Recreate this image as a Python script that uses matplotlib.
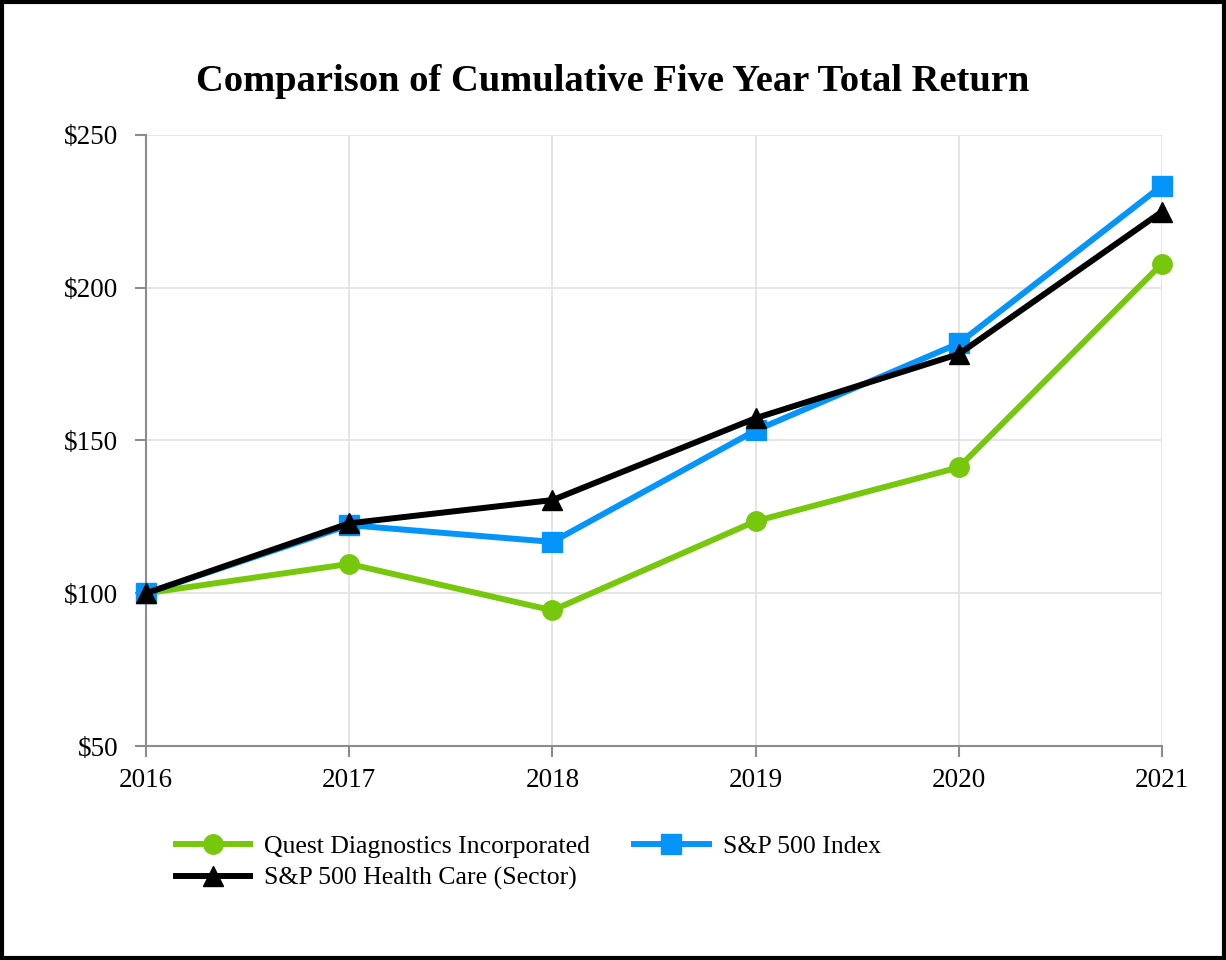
import matplotlib
matplotlib.use("Agg")
import matplotlib.pyplot as plt
from matplotlib.patches import Rectangle

# values
years = [2016, 2017, 2018, 2019, 2020, 2021]
quest = [100, 109.6, 94.4, 123.6, 141.2, 207.9]
sp500 = [100, 122.3, 116.8, 153.3, 181.8, 233.4]
health = [100, 122.9, 130.5, 157.3, 178.3, 224.9]

y_ticks = [50, 100, 150, 200, 250]
y_labels = ["$50", "$100", "$150", "$200", "$250"]

plt.rcParams["font.family"] = ["Liberation Serif", "DejaVu Serif"]

fig = plt.figure(figsize=(12.26, 9.6), dpi=100)
ax = fig.add_axes([0.1191, 0.2229, 0.8287, 0.6365])

l1, = ax.plot(years, quest, color="#77c80c", lw=4.3, marker="o", ms=14,
              label="Quest Diagnostics Incorporated", zorder=3, clip_on=False)
l2, = ax.plot(years, sp500, color="#0595fa", lw=4.3, marker="s", ms=14,
              label="S&P 500 Index", zorder=4, clip_on=False)
l3, = ax.plot(years, health, color="black", lw=4.3, marker="^", ms=14,
              label="S&P 500 Health Care (Sector)", zorder=5, clip_on=False)

ax.set_xlim(2016, 2021)
ax.set_ylim(50, 250)
ax.set_xticks(years)
ax.set_xticklabels([str(y) for y in years])
ax.set_yticks(y_ticks)
ax.set_yticklabels(y_labels)
ax.grid(True, color="#e3e3e3", lw=1.3)
ax.set_axisbelow(True)

for side in ["top", "right"]:
    ax.spines[side].set_visible(False)
for side in ["left", "bottom"]:
    ax.spines[side].set_color("#8c8c8c")
    ax.spines[side].set_linewidth(1.5)
ax.tick_params(axis="both", labelsize=19.5, color="#8c8c8c", width=1.5, length=8)
ax.tick_params(axis="y", pad=12)
ax.tick_params(axis="x", pad=8)

fig.text(0.5, 0.915, "Comparison of Cumulative Five Year Total Return",
         ha="center", va="center", fontsize=27.7, fontweight="bold")

fig.legend(handles=[l1, l3, l2], ncol=2, loc="upper left",
           bbox_to_anchor=(0.135, 0.141), frameon=False, fontsize=18.5,
           handlelength=2.9, handletextpad=0.55, columnspacing=1.7,
           labelspacing=0.35, borderaxespad=0)

fig.patches.append(Rectangle((0.002, 0.002), 0.996, 0.996, transform=fig.transFigure,
                             fill=False, edgecolor="black", lw=3))

fig.savefig("out.png", dpi=100)
